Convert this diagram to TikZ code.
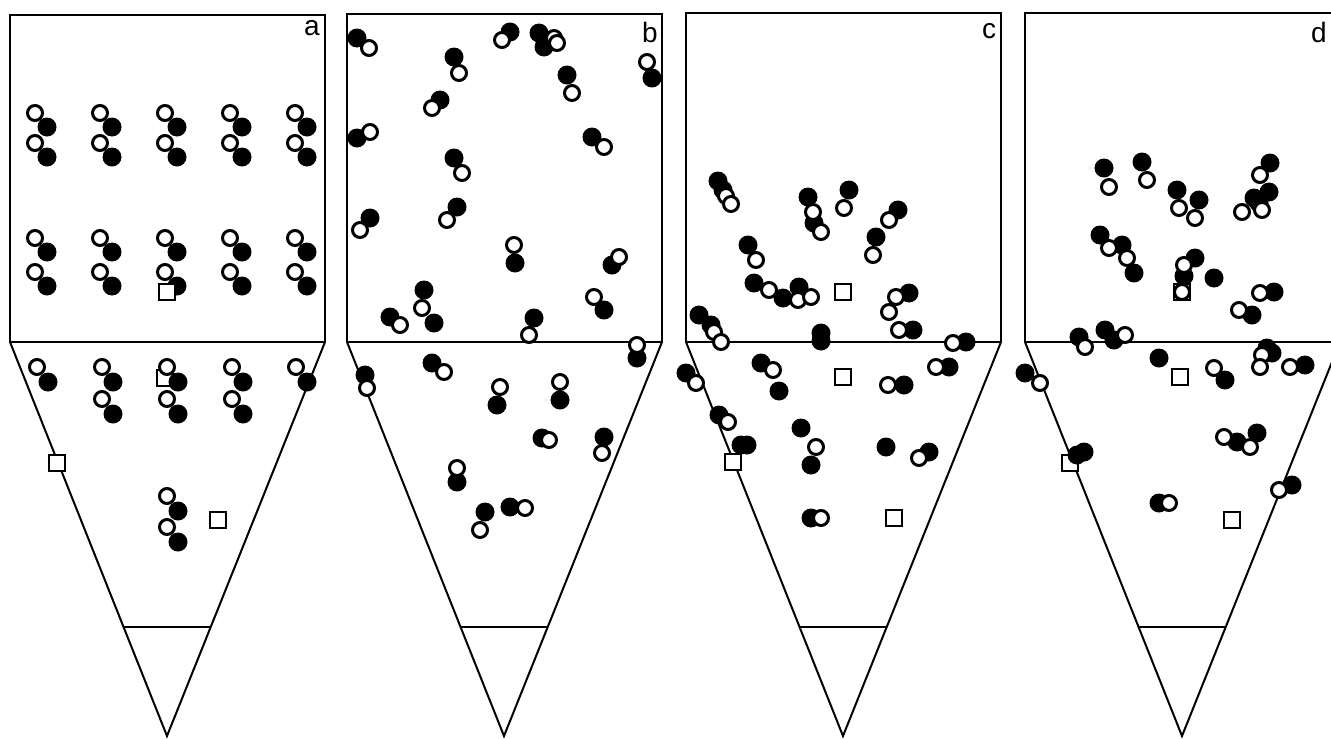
\documentclass[tikz,border=0pt]{standalone}
\usepackage{fontspec}
\setsansfont{Liberation Sans}
\usetikzlibrary{positioning}
\tikzset{
  wall/.style={draw=black, line width=2.4pt},
  funnelline/.style={draw=black, line width=2pt},
  fullball/.style={fill=black},
  openball/.style={draw=black, fill=white, line width=3pt},
  probe/.style={draw=black, fill=white, line width=2pt},
  panellabel/.style={font=\sffamily\fontsize{28}{28}\selectfont, anchor=base, inner sep=0pt}
}

\begin{document}
\begin{tikzpicture}[x=1pt, y=-1pt]
\clip (0,0) rectangle (1331,739);
\fill[white] (0,0) rectangle (1331,739);
% settling vessels
\foreach \ox/\ty in {10/15, 347/14, 686/13, 1025/13} {
  \draw[wall] (\ox,\ty) rectangle (\ox+315,342);
  \draw[funnelline] (\ox,342) -- (\ox+157,736) -- (\ox+315,342);
  \draw[funnelline] (\ox+113,627) -- (\ox+201,627);
}
\node[panellabel] (lbla) at (312,35) {a};
\node[panellabel] (lblb) at (650,42) {b};
\node[panellabel] (lblc) at (989,38) {c};
\node[panellabel] (lbld) at (1319,42) {d};

% panel a: regular lattice
\foreach \x in {35,100,165,230,295}
  \foreach \y in {113,143,238,272} {
    \draw[openball] (\x,\y) circle[radius=7.5pt];
    \fill[fullball] (\x+12,\y+14) circle[radius=9.5pt];
  }
\draw[probe] (159,284) rectangle (175,300);
\foreach \x/\y in {157/370, 49/455, 210/512}
  \draw[probe] (\x,\y) rectangle (\x+16,\y+16);
\foreach \x/\y in {37/367, 102/367, 102/399, 167/367, 167/399, 232/367, 232/399, 296/367, 167/496, 167/527} {
  \draw[openball] (\x,\y) circle[radius=7.5pt];
  \fill[fullball] (\x+11,\y+15) circle[radius=9.5pt];
}

% panel b
\foreach \x/\y in {357/38, 510/32, 539/33, 544/47, 454/57, 652/78, 567/75, 440/100,
    357/138, 592/137, 454/158, 457/207, 370/218, 515/263, 612/265, 424/290, 434/323,
    390/317, 604/310, 534/318, 637/358, 365/375, 432/363, 497/405, 560/400, 542/438,
    604/437, 457/482, 485/512, 510/507}
  \fill[fullball] (\x,\y) circle[radius=9.5pt];
\foreach \x/\y in {369/48, 502/40, 554/38, 557/43, 459/73, 647/62, 572/93, 432/108,
    370/132, 604/147, 462/173, 447/220, 360/230, 514/245, 619/257, 422/308, 400/325,
    594/297, 529/335, 637/345, 367/388, 444/372, 500/387, 560/382, 549/440, 602/453,
    457/468, 480/530, 525/508}
  \draw[openball] (\x,\y) circle[radius=7.5pt];

% panel c
\foreach \x/\y in {835/284, 835/369, 725/454, 886/510}
  \draw[probe] (\x,\y) rectangle (\x+16,\y+16);
\foreach \x/\y in {718/181, 723/190, 808/197, 814/223, 849/190, 898/210, 876/237,
    748/245, 754/283, 783/298, 799/287, 909/293, 913/330, 699/315, 711/325, 821/333,
    821/341, 966/342, 686/373, 761/363, 779/391, 904/385, 949/367, 719/415, 741/445,
    747/445, 801/428, 811/465, 886/447, 929/452, 811/518}
  \fill[fullball] (\x,\y) circle[radius=9.5pt];
\foreach \x/\y in {726/196, 731/204, 813/212, 821/232, 844/208, 889/220, 873/255,
    756/260, 769/290, 798/300, 811/297, 896/297, 889/312, 899/330, 714/332, 721/342,
    953/343, 696/383, 773/370, 888/385, 936/367, 728/422, 816/447, 919/458, 821/518}
  \draw[openball] (\x,\y) circle[radius=7.5pt];

% panel d
\foreach \x/\y in {1174/284, 1172/369, 1062/455, 1224/512}
  \draw[probe] (\x,\y) rectangle (\x+16,\y+16);
\foreach \x/\y in {1104/168, 1142/162, 1177/190, 1199/200, 1270/163, 1254/198,
    1269/192, 1259/203, 1100/235, 1122/245, 1134/273, 1195/258, 1184/276, 1214/278,
    1252/315, 1274/292, 1079/337, 1105/330, 1114/340, 1025/373, 1159/358, 1225/380,
    1272/353, 1267/348, 1305/365, 1237/442, 1257/433, 1084/452, 1077/455, 1159/503,
    1292/485}
  \fill[fullball] (\x,\y) circle[radius=9.5pt];
\foreach \x/\y in {1109/187, 1147/180, 1179/208, 1195/218, 1260/175, 1242/212,
    1262/210, 1109/248, 1127/258, 1184/265, 1182/292, 1239/310, 1260/293, 1085/347,
    1125/335, 1040/383, 1214/368, 1262/355, 1260/367, 1290/367, 1224/437, 1250/447,
    1169/503, 1279/490}
  \draw[openball] (\x,\y) circle[radius=7.5pt];
\end{tikzpicture}
\end{document}
